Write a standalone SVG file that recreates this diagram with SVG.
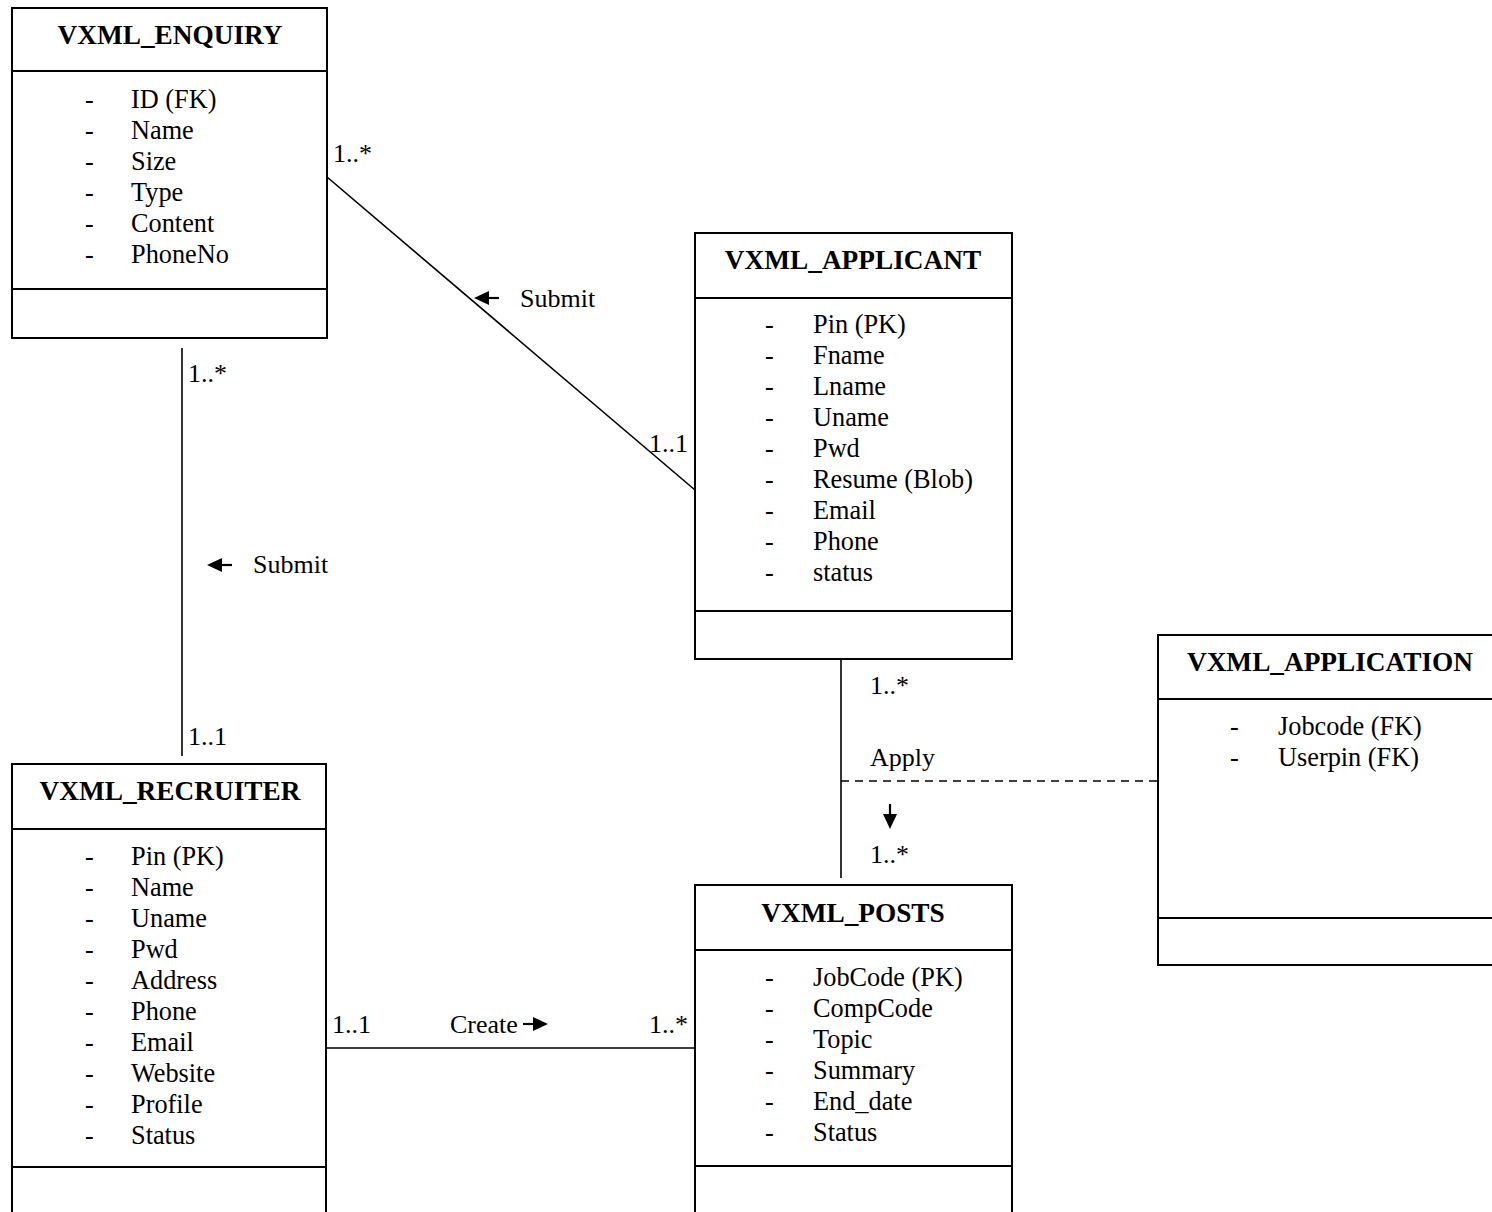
<svg xmlns="http://www.w3.org/2000/svg" xmlns:xlink="http://www.w3.org/1999/xlink" width="1492" height="1212" viewBox="0 0 1492 1212">
<style>
.box{fill:#fff;stroke:#000;stroke-width:2}
.sep{stroke:#000;stroke-width:2;fill:none}
.title{font-family:"Liberation Serif","Times New Roman",serif;font-weight:bold;font-size:27.3px;text-anchor:middle;fill:#000}
.attr{font-family:"Liberation Serif","Times New Roman",serif;font-size:26.3px;fill:#000}
.lbl{font-family:"Liberation Serif","Times New Roman",serif;font-size:26px;fill:#000}
.conn{stroke:#000;stroke-width:1.6;fill:none}
.dash{stroke:#000;stroke-width:1.6;fill:none;stroke-dasharray:8,6}
</style>
<defs>
<g id="arr">
<path d="M0,0 L15,-7 L15,7 Z" fill="#000"/>
<path d="M14,0 H25" stroke="#000" stroke-width="2.2"/>
</g>
</defs>

<g id="connectors">
<line class="conn" x1="327" y1="177" x2="695" y2="490"/>
<line class="conn" x1="182" y1="348" x2="182" y2="756"/>
<line class="conn" x1="841" y1="659" x2="841" y2="878"/>
<line class="dash" x1="841" y1="781" x2="1158" y2="781"/>
<line class="conn" x1="326" y1="1048" x2="695" y2="1048"/>
<text class="lbl" x="333" y="162">1..*</text>
<text class="lbl" x="688" y="452" text-anchor="end">1..1</text>
<use xlink:href="#arr" transform="translate(474,298)"/>
<text class="lbl" x="520" y="307">Submit</text>
<text class="lbl" x="188" y="382">1..*</text>
<text class="lbl" x="188" y="745">1..1</text>
<use xlink:href="#arr" transform="translate(207,565)"/>
<text class="lbl" x="253" y="573">Submit</text>
<text class="lbl" x="870" y="694">1..*</text>
<text class="lbl" x="870" y="766">Apply</text>
<use xlink:href="#arr" transform="translate(890,829) rotate(-90)"/>
<text class="lbl" x="870" y="863">1..*</text>
<text class="lbl" x="332" y="1033">1..1</text>
<text class="lbl" x="450" y="1033">Create</text>
<use xlink:href="#arr" transform="translate(548,1024) rotate(180)"/>
<text class="lbl" x="688" y="1033" text-anchor="end">1..*</text>
</g>

<g id="vxml_enquiry">
<rect class="box" x="12" y="8" width="315" height="330"/>
<line class="sep" x1="12" y1="71" x2="327" y2="71"/>
<line class="sep" x1="12" y1="289" x2="327" y2="289"/>
<text class="title" x="170" y="44">VXML_ENQUIRY</text>
<g class="attr">
<text x="85" y="108">-</text><text x="131" y="108">ID (FK)</text>
<text x="85" y="139">-</text><text x="131" y="139">Name</text>
<text x="85" y="170">-</text><text x="131" y="170">Size</text>
<text x="85" y="201">-</text><text x="131" y="201">Type</text>
<text x="85" y="232">-</text><text x="131" y="232">Content</text>
<text x="85" y="263">-</text><text x="131" y="263">PhoneNo</text>
</g>
</g>

<g id="vxml_applicant">
<rect class="box" x="695" y="233" width="317" height="426"/>
<line class="sep" x1="695" y1="298" x2="1012" y2="298"/>
<line class="sep" x1="695" y1="611" x2="1012" y2="611"/>
<text class="title" x="853" y="269">VXML_APPLICANT</text>
<g class="attr">
<text x="765" y="333">-</text><text x="813" y="333">Pin (PK)</text>
<text x="765" y="364">-</text><text x="813" y="364">Fname</text>
<text x="765" y="395">-</text><text x="813" y="395">Lname</text>
<text x="765" y="426">-</text><text x="813" y="426">Uname</text>
<text x="765" y="457">-</text><text x="813" y="457">Pwd</text>
<text x="765" y="488">-</text><text x="813" y="488">Resume (Blob)</text>
<text x="765" y="519">-</text><text x="813" y="519">Email</text>
<text x="765" y="550">-</text><text x="813" y="550">Phone</text>
<text x="765" y="581">-</text><text x="813" y="581">status</text>
</g>
</g>

<g id="vxml_recruiter">
<rect class="box" x="12" y="764" width="314" height="460"/>
<line class="sep" x1="12" y1="829" x2="326" y2="829"/>
<line class="sep" x1="12" y1="1167" x2="326" y2="1167"/>
<text class="title" x="170" y="800">VXML_RECRUITER</text>
<g class="attr">
<text x="85" y="865">-</text><text x="131" y="865">Pin (PK)</text>
<text x="85" y="896">-</text><text x="131" y="896">Name</text>
<text x="85" y="927">-</text><text x="131" y="927">Uname</text>
<text x="85" y="958">-</text><text x="131" y="958">Pwd</text>
<text x="85" y="989">-</text><text x="131" y="989">Address</text>
<text x="85" y="1020">-</text><text x="131" y="1020">Phone</text>
<text x="85" y="1051">-</text><text x="131" y="1051">Email</text>
<text x="85" y="1082">-</text><text x="131" y="1082">Website</text>
<text x="85" y="1113">-</text><text x="131" y="1113">Profile</text>
<text x="85" y="1144">-</text><text x="131" y="1144">Status</text>
</g>
</g>

<g id="vxml_posts">
<rect class="box" x="695" y="885" width="317" height="340"/>
<line class="sep" x1="695" y1="950" x2="1012" y2="950"/>
<line class="sep" x1="695" y1="1166" x2="1012" y2="1166"/>
<text class="title" x="853" y="922">VXML_POSTS</text>
<g class="attr">
<text x="765" y="986">-</text><text x="813" y="986">JobCode (PK)</text>
<text x="765" y="1017">-</text><text x="813" y="1017">CompCode</text>
<text x="765" y="1048">-</text><text x="813" y="1048">Topic</text>
<text x="765" y="1079">-</text><text x="813" y="1079">Summary</text>
<text x="765" y="1110">-</text><text x="813" y="1110">End_date</text>
<text x="765" y="1141">-</text><text x="813" y="1141">Status</text>
</g>
</g>

<g id="vxml_application">
<rect class="box" x="1158" y="635" width="345" height="330"/>
<line class="sep" x1="1158" y1="699" x2="1500" y2="699"/>
<line class="sep" x1="1158" y1="918" x2="1500" y2="918"/>
<text class="title" x="1330" y="671">VXML_APPLICATION</text>
<g class="attr">
<text x="1230" y="735">-</text><text x="1278" y="735">Jobcode (FK)</text>
<text x="1230" y="766">-</text><text x="1278" y="766">Userpin (FK)</text>
</g>
</g>
</svg>
